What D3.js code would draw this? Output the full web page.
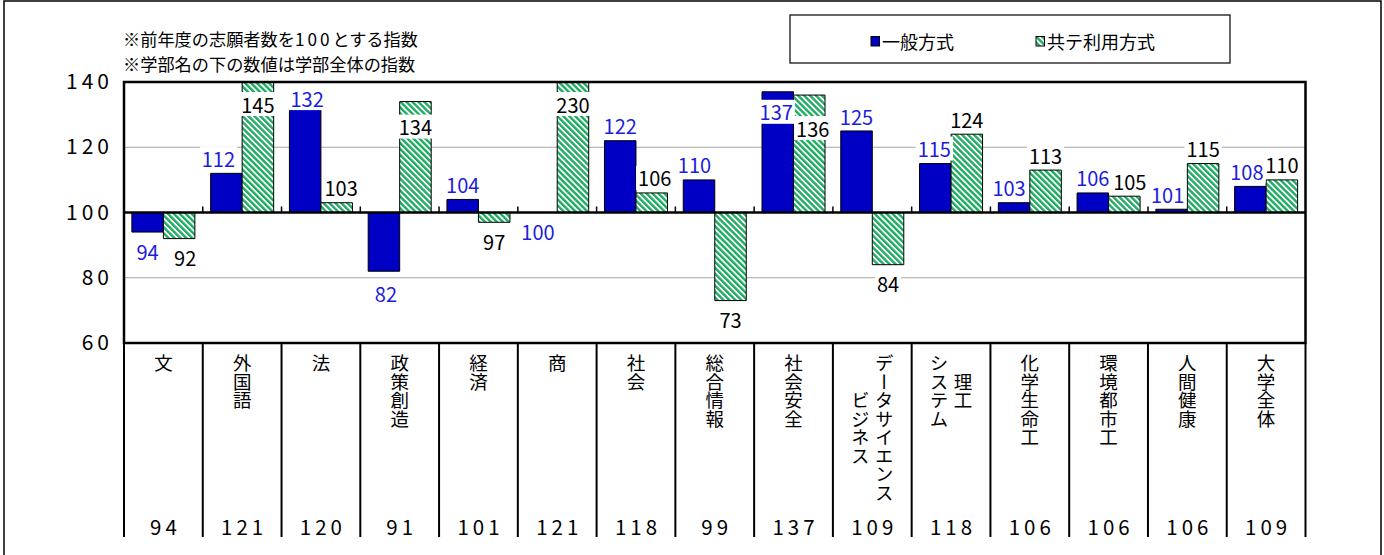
<!DOCTYPE html>
<html><head><meta charset="utf-8">
<script src="https://cdn.jsdelivr.net/npm/d3@7"></script>
<style>
html,body{margin:0;padding:0;background:#fff;}
svg{display:block;font-family:"Noto Sans CJK JP","Noto Sans",sans-serif;}
</style></head>
<body><svg id="c" width="1384" height="555"></svg>
<script>
const categories = ["文","外国語","法","政策創造","経済","商","社会","総合情報","社会安全","データサイエンス\nビジネス","理工\nシステム","化学生命工","環境都市工","人間健康","大学全体"];
const seriesNames = ["一般方式","共テ利用方式"];
const general = [94,112,132,82,104,100,122,110,137,125,115,103,106,101,108];
const kyote = [92,145,103,134,97,230,106,73,136,84,124,113,105,115,110];
const totals = [94,121,120,91,101,121,118,99,137,109,118,106,106,106,109];
const yTicks = [60,80,100,120,140];
const notes = ["※前年度の志願者数を100とする指数","※学部名の下の数値は学部全体の指数"];
// label nudges (px) to mimic manual label placement
const generalDx = [0,-8,2,2,0,-3.5,0,-4.5,-1.5,0,-1,-5,0,-4,-3.5];
const generalDy = [0,0,5,3,0,0,0,0,35,1,0,0,0,0,0];
const kyoteDx = [6,0,4.5,0,0,0,3,0,3.5,0,0,0,5.5,0,0];
const kyoteDy = [0,0,0,40,0,0,0,0,48,0,0,0,0,0,0];

const svg = d3.select("#c");
const L = 124, R = 1305.5, T = 82, B = 343;
const BLUE = "#0000c4", GREEN = "#1fac62", LBLUE = "#1c1cdc";

const defs = svg.append("defs");
const pat = defs.append("pattern").attr("id","hatch").attr("patternUnits","userSpaceOnUse")
  .attr("width",4.2).attr("height",8).attr("patternTransform","rotate(-45)");
pat.append("rect").attr("width",4.2).attr("height",8).attr("fill","#fff");
pat.append("rect").attr("width",2.4).attr("height",8).attr("fill",GREEN);
defs.append("clipPath").attr("id","plotclip").append("rect")
  .attr("x",L).attr("y",T).attr("width",R-L).attr("height",B-T);

// outer frame
svg.append("rect").attr("x",4).attr("y",1).attr("width",1377).attr("height",600)
  .attr("fill","none").attr("stroke","#000").attr("stroke-width",1.5);

const x = d3.scaleBand().domain(categories).range([L,R]).padding(0);
const xs = d3.scaleBand().domain(seriesNames).range([0,x.bandwidth()]).paddingInner(0).paddingOuter(0.25);
const y = d3.scaleLinear().domain([60,140]).range([B,T]);

// gridlines
svg.append("g").selectAll("line").data(yTicks.filter(v=>v!==60&&v!==140&&v!==100)).join("line")
  .attr("x1",L).attr("x2",R).attr("y1",d=>y(d)).attr("y2",d=>y(d))
  .attr("stroke","#a6a6a6").attr("stroke-width",1);

// y axis labels
const yAxis = d3.axisLeft(y).tickValues(yTicks).tickSize(0).tickPadding(15);
const ga = svg.append("g").attr("transform",`translate(${L},0)`).call(yAxis);
ga.select(".domain").remove();
ga.selectAll("text").attr("font-size",21).attr("fill","#000")
  .attr("font-family",'"Noto Sans CJK JP",sans-serif').style("letter-spacing","4px").attr("dx","4px");

// bars
const rows = [];
categories.forEach((c,i)=>{
  rows.push({c,i,s:seriesNames[0],v:general[i],dx:generalDx[i],dy:generalDy[i]});
  rows.push({c,i,s:seriesNames[1],v:kyote[i],dx:kyoteDx[i],dy:kyoteDy[i]});
});
const barPath = d=>{
  const x0 = x(d.c)+xs(d.s), w = xs.bandwidth();
  const y0 = y(100), y1 = y(d.v);
  return `M${x0},${y0}H${x0+w}V${y1}H${x0}Z`;
};
svg.append("g").attr("clip-path","url(#plotclip)").selectAll("path").data(rows).join("path")
  .attr("d",barPath)
  .attr("fill",d=>d.s===seriesNames[0]?BLUE:"url(#hatch)")
  .attr("stroke","#000").attr("stroke-width",1);

// category axis at 100 with ticks
svg.append("line").attr("x1",L).attr("x2",R).attr("y1",y(100)).attr("y2",y(100))
  .attr("stroke","#000").attr("stroke-width",2.5);
svg.append("g").selectAll("line").data(d3.range(1,categories.length)).join("line")
  .attr("x1",i=>L+i*x.step()).attr("x2",i=>L+i*x.step())
  .attr("y1",y(100)).attr("y2",y(100)-6).attr("stroke","#000").attr("stroke-width",1.5);

// plot border
svg.append("rect").attr("x",L).attr("y",T).attr("width",R-L).attr("height",B-T)
  .attr("fill","none").attr("stroke","#000").attr("stroke-width",2.5);

// data labels
const lg = svg.append("g");
rows.forEach(d=>{
  const cx = x(d.c)+xs(d.s)+xs.bandwidth()/2 + d.dx;
  let cy;
  if (d.v > 140) cy = y(140)+22;
  else if (d.v > 100) cy = y(d.v) - 15 + d.dy;
  else cy = y(d.v) + 19 + d.dy;
  const g = lg.append("g");
  const t = g.append("text").attr("x",cx).attr("y",cy).attr("text-anchor","middle")
    .attr("dominant-baseline","central").attr("font-size",20)
    .attr("fill",d.s===seriesNames[0]?LBLUE:"#000").text(d.v);
  const bb = t.node().getBBox();
  g.insert("rect","text").attr("x",bb.x-2).attr("y",cy-12).attr("width",bb.width+4).attr("height",24).attr("fill","#fff");
});

// table lines under plot
svg.append("g").selectAll("line").data(d3.range(0,categories.length+1)).join("line")
  .attr("x1",i=>L+i*x.step()).attr("x2",i=>L+i*x.step())
  .attr("y1",B).attr("y2",537).attr("stroke","#000").attr("stroke-width",2);

// category labels (vertical)
const FS = 18.5, TOP = 354, COL = 24;
categories.forEach((c,i)=>{
  const lines = c.split("\n");
  const maxLen = d3.max(lines, l=>l.length);
  const cy = TOP + maxLen*FS/2;
  const cx = x(c)+x.bandwidth()/2;
  lines.forEach((ln,j)=>{
    svg.append("text").attr("x",cx + ((lines.length-1)/2 - j)*COL).attr("y",cy)
      .attr("text-anchor","middle").attr("font-size",FS)
      .style("writing-mode","vertical-rl").attr("fill","#000").text(ln);
  });
});

// totals row
svg.append("g").selectAll("text").data(totals).join("text")
  .attr("x",(d,i)=>x(categories[i])+x.bandwidth()/2+2).attr("y",526)
  .attr("text-anchor","middle").attr("dominant-baseline","central")
  .attr("font-size",20.5).style("letter-spacing","4px").attr("fill","#000").text(d=>d);

// notes
notes.forEach((n,k)=>{
  const t = svg.append("text").attr("x",123).attr("y",[37.5,62.5][k]).attr("dominant-baseline","central")
    .attr("font-size",17.2).attr("fill","#000");
  n.split(/(\d+)/).forEach(part=>{
    if(!part) return;
    const sp = t.append("tspan").text(part);
    if(/^\d+$/.test(part)) sp.style("letter-spacing","3px");
  });
});

// legend
svg.append("rect").attr("x",790).attr("y",15).attr("width",440).attr("height",48)
  .attr("fill","#fff").attr("stroke","#000").attr("stroke-width",1.2);
const legX = [871,1036];
seriesNames.forEach((s,k)=>{
  svg.append("rect").attr("x",legX[k]).attr("y",36.5).attr("width",8.5).attr("height",9.5)
    .attr("fill",k===0?BLUE:"url(#hatch)").attr("stroke","#000").attr("stroke-width",1);
  svg.append("text").attr("x",legX[k]+11).attr("y",41).attr("dominant-baseline","central")
    .attr("font-size",18).attr("fill","#000").text(s);
});
</script></body></html>
